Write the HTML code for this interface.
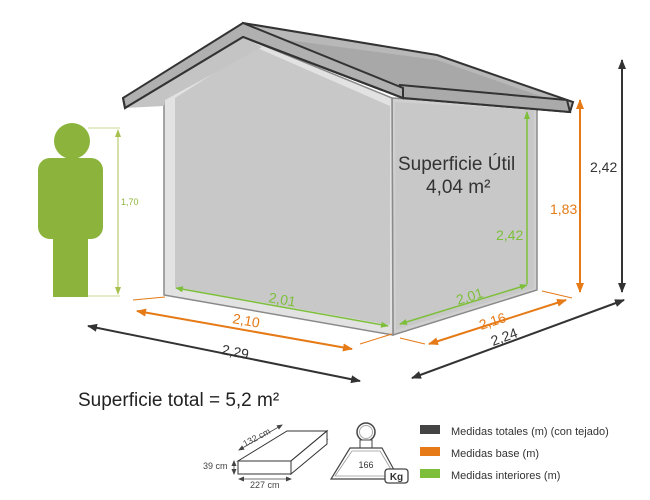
<!DOCTYPE html>
<html><head><meta charset="utf-8"><style>
html,body{margin:0;padding:0;background:#fff}
svg{display:block;font-family:"Liberation Sans",sans-serif}
</style></head><body>
<svg width="650" height="500" viewBox="0 0 650 500">
<defs>
<marker id="ag" markerWidth="8" markerHeight="8" refX="7" refY="4" orient="auto-start-reverse" markerUnits="userSpaceOnUse"><path d="M0,1 L8,4 L0,7 z" fill="#7dbf3a"/></marker>
<marker id="ao" markerWidth="10" markerHeight="10" refX="9" refY="5" orient="auto-start-reverse" markerUnits="userSpaceOnUse"><path d="M0,1 L10,5 L0,9 z" fill="#e57a16"/></marker>
<marker id="ad" markerWidth="10" markerHeight="10" refX="9" refY="5" orient="auto-start-reverse" markerUnits="userSpaceOnUse"><path d="M0,1 L10,5 L0,9 z" fill="#333"/></marker>
<marker id="ap" markerWidth="8" markerHeight="8" refX="7" refY="4" orient="auto-start-reverse" markerUnits="userSpaceOnUse"><path d="M0,1 L8,4 L0,7 z" fill="#a8c050"/></marker>
<marker id="as" markerWidth="6" markerHeight="6" refX="5" refY="3" orient="auto-start-reverse" markerUnits="userSpaceOnUse"><path d="M0,0.5 L6,3 L0,5.5 z" fill="#444"/></marker>
</defs>
<!-- person -->
<circle cx="72" cy="141" r="18" fill="#8cb43c"/>
<rect x="38" y="158" width="65" height="81" rx="12" fill="#8cb43c"/>
<rect x="53" y="230" width="35" height="67" fill="#8cb43c"/>
<line x1="88" y1="128" x2="120" y2="128" stroke="#c8d890" stroke-width="1"/>
<line x1="88" y1="296" x2="120" y2="296" stroke="#c8d890" stroke-width="1"/>
<line x1="118" y1="130" x2="118" y2="294" stroke="#a8c050" stroke-width="1" marker-start="url(#ap)" marker-end="url(#ap)"/>
<text x="121" y="205" font-size="9" fill="#8cb43c">1,70</text>
<!-- side wall -->
<polygon points="392,98 537,107 537,290 393,335" fill="#d0d0d0" stroke="#8a8a8a" stroke-width="1.5"/>
<polygon points="395,102 534,110 534,288 396,330" fill="#c8c8c8"/>
<!-- front wall -->
<polygon points="164,90 243,37 392,98 393,335 164,295" fill="#e2e2e2" stroke="#8a8a8a" stroke-width="1.5"/>
<polygon points="175,98 255,47 390,106 390,325 175,287" fill="#c8c8c8"/>
<!-- roof -->
<polygon points="243,23 437,55 573,102 570,112 403,98 243,37" fill="#b8b8b8" stroke="#333" stroke-width="2"/>
<polygon points="258,36 437,60 560,103 403,92" fill="#a8a8a8"/>
<polygon points="400,85 567,100 570,112 403,98" fill="#aaaaaa" stroke="#333" stroke-width="2"/>
<polygon points="123,98 243,23 403,88 403,98 243,37 125,108" fill="#b0b0b0" stroke="#333" stroke-width="2"/>
<polygon points="125,108 243,37 262,47 165,100 164,106" fill="#c4c4c4"/>
<polyline points="123,98 125,108 243,37 403,98" fill="none" stroke="#333" stroke-width="2"/>
<!-- green interior -->
<line x1="176" y1="288" x2="388" y2="326" stroke="#7dbf3a" stroke-width="1.5" marker-start="url(#ag)" marker-end="url(#ag)"/>
<text x="268" y="302" font-size="14" fill="#7dbf3a" transform="rotate(10 268 302)">2,01</text>
<line x1="400" y1="324" x2="527" y2="285" stroke="#7dbf3a" stroke-width="1.5" marker-start="url(#ag)" marker-end="url(#ag)"/>
<text x="458" y="305" font-size="14" fill="#7dbf3a" transform="rotate(-17 458 305)">2,01</text>
<line x1="527" y1="284" x2="527" y2="112" stroke="#7dbf3a" stroke-width="1.5" marker-end="url(#ag)"/>
<text x="496" y="240" font-size="14" fill="#7dbf3a">2,42</text>
<!-- orange base -->
<line x1="133" y1="300" x2="165" y2="297" stroke="#e57a16" stroke-width="1"/>
<line x1="360" y1="344" x2="392" y2="334" stroke="#e57a16" stroke-width="1"/>
<line x1="137" y1="311" x2="352" y2="349" stroke="#e57a16" stroke-width="2" marker-start="url(#ao)" marker-end="url(#ao)"/>
<text x="232" y="323" font-size="14" fill="#e57a16" transform="rotate(10 232 323)">2,10</text>
<line x1="400" y1="338" x2="425" y2="344" stroke="#e57a16" stroke-width="1"/>
<line x1="542" y1="291" x2="572" y2="298" stroke="#e57a16" stroke-width="1"/>
<line x1="429" y1="344" x2="566" y2="300" stroke="#e57a16" stroke-width="2" marker-start="url(#ao)" marker-end="url(#ao)"/>
<text x="481" y="330" font-size="14" fill="#e57a16" transform="rotate(-18 481 330)">2,16</text>
<line x1="580" y1="100" x2="580" y2="292" stroke="#e57a16" stroke-width="2" marker-start="url(#ao)" marker-end="url(#ao)"/>
<text x="550" y="214" font-size="14" fill="#e57a16">1,83</text>
<!-- dark totals -->
<line x1="88" y1="326" x2="360" y2="381" stroke="#333" stroke-width="2" marker-start="url(#ad)" marker-end="url(#ad)"/>
<text x="221" y="354" font-size="14" fill="#333" transform="rotate(11 221 354)">2,29</text>
<line x1="412" y1="378" x2="624" y2="300" stroke="#333" stroke-width="2" marker-start="url(#ad)" marker-end="url(#ad)"/>
<text x="493" y="346" font-size="14" fill="#333" transform="rotate(-20 493 346)">2,24</text>
<line x1="622" y1="60" x2="622" y2="292" stroke="#333" stroke-width="2" marker-start="url(#ad)" marker-end="url(#ad)"/>
<text x="590" y="172" font-size="14" fill="#333">2,42</text>
<!-- labels -->
<text x="398" y="170" font-size="19" fill="#333">Superficie Útil</text>
<text x="426" y="193" font-size="19" fill="#333">4,04 m²</text>
<text x="78" y="406" font-size="19" fill="#222">Superficie total = 5,2 m²</text>
<!-- package -->
<polygon points="238,461 287,440 327,440 291,470 238,470" fill="#fff" stroke="#333" stroke-width="1"/>
<polygon points="238,461 287,431 327,431 291,461" fill="#fff" stroke="#333" stroke-width="1"/>
<polygon points="291,461 327,431 327,440 291,470" fill="#fff" stroke="#333" stroke-width="1"/>
<rect x="238" y="461" width="53" height="13" fill="#fff" stroke="#333" stroke-width="1"/>
<polygon points="291,474 327,444 327,431 291,461" fill="#fff" stroke="#333" stroke-width="1"/>
<line x1="239" y1="450" x2="282" y2="425" stroke="#444" stroke-width="0.8" marker-start="url(#as)" marker-end="url(#as)"/>
<text x="245" y="447" font-size="9" fill="#444" transform="rotate(-28 245 447)">132 cm</text>
<line x1="234" y1="461" x2="234" y2="474" stroke="#444" stroke-width="0.8" marker-start="url(#as)" marker-end="url(#as)"/>
<text x="203" y="469" font-size="9" fill="#444">39 cm</text>
<line x1="239" y1="479" x2="291" y2="479" stroke="#444" stroke-width="0.8" marker-start="url(#as)" marker-end="url(#as)"/>
<text x="250" y="488" font-size="9" fill="#444">227 cm</text>
<!-- weight -->
<circle cx="366" cy="432" r="9" fill="none" stroke="#444" stroke-width="1.5"/>
<circle cx="366" cy="432" r="6.5" fill="none" stroke="#aaa" stroke-width="1"/>
<rect x="360" y="440" width="12" height="8" fill="#fff" stroke="#444" stroke-width="1"/>
<polygon points="350,448 382,448 399,479 331,479" fill="#fff" stroke="#444" stroke-width="1.2"/>
<polygon points="352,451 380,451 395,476 335,476" fill="none" stroke="#999" stroke-width="0.8"/>
<text x="366" y="468" font-size="9" fill="#333" text-anchor="middle">166</text>
<rect x="385" y="469" width="23" height="14" rx="3" fill="#fff" stroke="#444" stroke-width="1.3"/>
<text x="396.5" y="480" font-size="10" font-weight="bold" fill="#333" text-anchor="middle">Kg</text>
<!-- legend -->
<rect x="420" y="425" width="20" height="9" fill="#444"/>
<text x="451" y="435" font-size="11" fill="#333">Medidas totales (m) (con tejado)</text>
<rect x="420" y="447" width="20" height="9" fill="#e57a16"/>
<text x="451" y="457" font-size="11" fill="#333">Medidas base (m)</text>
<rect x="420" y="469" width="20" height="9" fill="#7dbf3a"/>
<text x="451" y="479" font-size="11" fill="#333">Medidas interiores (m)</text>
</svg>
</body></html>
